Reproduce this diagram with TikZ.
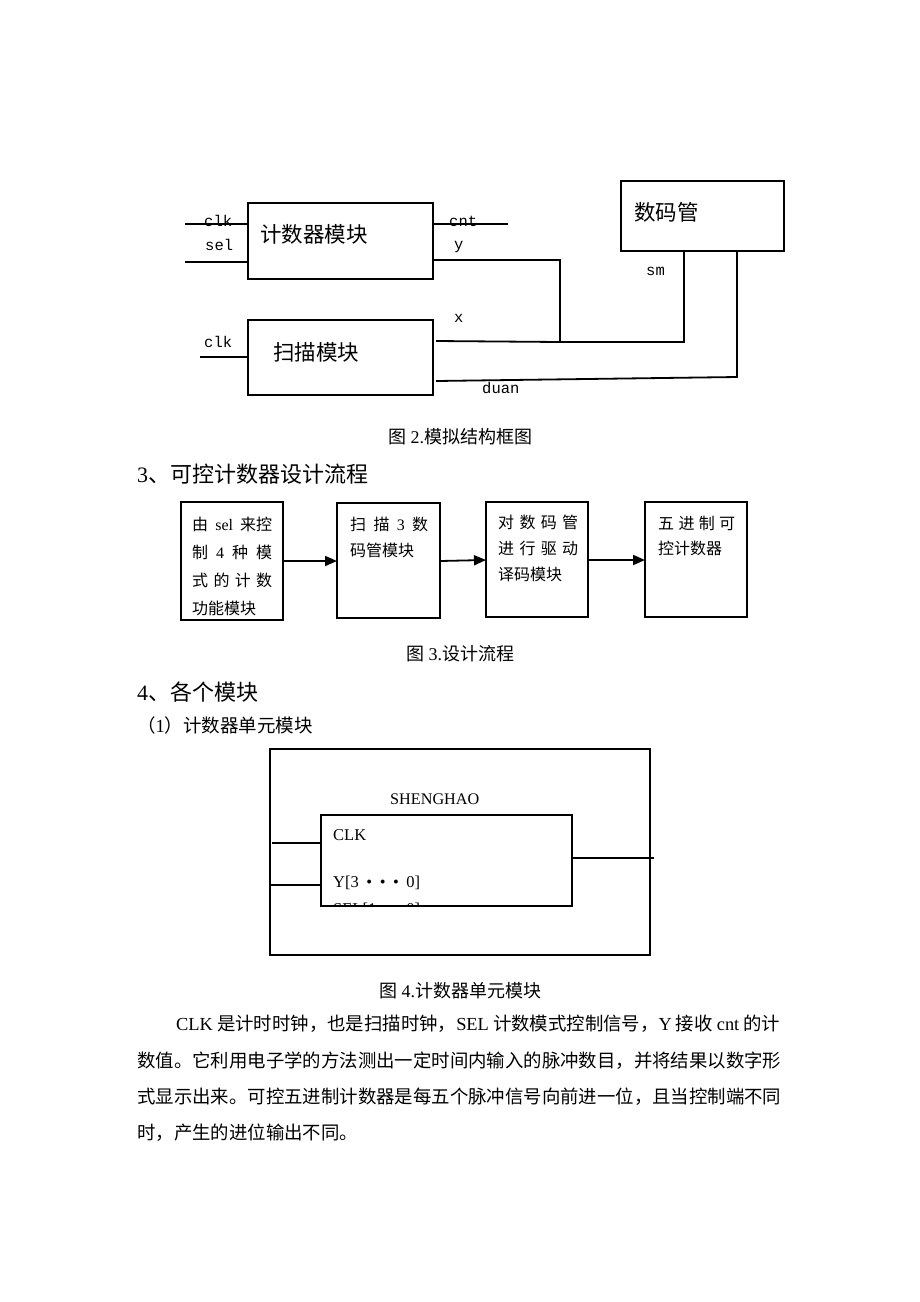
\documentclass[tikz,border=0pt]{standalone}
\usepackage{fontspec}
\setmainfont{Liberation Serif}
\setmonofont{Liberation Mono}
\newfontfamily\zhfont{Noto Sans CJK SC}
\newcommand\zh[1]{{\zhfont #1}}
\newcommand\fsz[1]{\fontsize{#1}{#1}\selectfont}
\usetikzlibrary{arrows.meta}
\begin{document}
\begin{tikzpicture}[x=1pt,y=-1pt,
  box/.style={draw, line width=1.3pt, inner sep=0pt, outer sep=0pt, anchor=north west},
  wire/.style={line width=1.8pt},
  arr/.style={line width=1.8pt, -{Triangle[length=12pt,width=10pt]}},
  tx/.style={inner sep=0pt, anchor=base west},
  txc/.style={inner sep=0pt, anchor=base},
  sig/.style={tx, font=\ttfamily\fsz{15.5}},
  bigtext/.style={tx, font=\zhfont\fsz{21.5}},
  flow/.style={tx, font=\fsz{16}},
  capt/.style={txc, font=\fsz{18}},
  headtext/.style={tx, font=\fsz{22}},
  bodytext/.style={tx, font=\fsz{18.4}},
]
\useasboundingbox (0,0) rectangle (920,1302);
\fill[white] (0,0) rectangle (920,1302);

% ---------- Figure 2 ----------
\node[box, minimum width=185pt, minimum height=76pt] (cntbox) at (248,203) {};
\node[box, minimum width=185pt, minimum height=75pt] (scanbox) at (248,320) {};
\node[box, minimum width=163pt, minimum height=70pt] (smg) at (621,181) {};
\node[bigtext] (tcnt) at (260,242) {计数器模块};
\node[bigtext] (tscan) at (273,360) {扫描模块};
\node[bigtext] (tsmg) at (634,220) {数码管};

\coordinate (clkA) at (185,224);
\coordinate (selA) at (185,262);
\coordinate (cntE) at (508,224);
\coordinate (yS) at (433,260);
\coordinate (yT) at (560,260);
\coordinate (jn) at (560,342);
\coordinate (smp) at (684,342);
\coordinate (xS) at (436,341);
\coordinate (dS) at (436,381);
\coordinate (dn) at (737,377);
\coordinate (clkB) at (200,357);

\draw[wire] (clkA) -- (clkA -| cntbox.west);
\draw[wire] (selA) -- (selA -| cntbox.west);
\draw[wire] (cntE -| cntbox.east) -- (cntE);
\draw[wire] (yS) -- (yT) -- (jn) -- (smp) -- (smp |- smg.south);
\draw[wire] (xS) -- (jn);
\draw[wire] (dS) -- (dn) -- (dn |- smg.south);
\draw[wire] (clkB) -- (clkB -| scanbox.west);

\node[sig] (lclk) at (204,226) {clk};
\node[sig] (lsel) at (205,250) {sel};
\node[sig] (lcnt) at (449,226) {cnt};
\node[sig] (ly) at (454,249) {y};
\node[sig] (lx) at (454,322) {x};
\node[sig] (lsm) at (646,275) {sm};
\node[sig] (lduan) at (482,393) {duan};
\node[sig] (lclk2) at (204,347) {clk};

\node[capt] (cap2) at (460,443) {\zh{图} 2.\zh{模拟结构框图}};
\node[headtext] (h3) at (137,482) {3\zh{、可控计数器设计流程}};

% ---------- Figure 3 ----------
\node[box, minimum width=102pt, minimum height=118pt] (f1) at (181,502) {};
\node[box, minimum width=103pt, minimum height=115pt] (f2) at (337,503) {};
\node[box, minimum width=102pt, minimum height=115pt] (f3) at (486,502) {};
\node[box, minimum width=102pt, minimum height=115pt] (f4) at (645,502) {};

\node[flow] (f1a) at (192,530) {\makebox[80pt][s]{\zh{由}\hfill sel\hfill\zh{来控}}};
\node[flow] (f1b) at (192,558) {\makebox[80pt][s]{\zh{制}\hfill 4\hfill\zh{种}\hfill\zh{模}}};
\node[flow] (f1c) at (192,586) {\makebox[80pt][s]{\zh{式}\hfill\zh{的}\hfill\zh{计}\hfill\zh{数}}};
\node[flow] (f1d) at (192,614) {\zh{功能模块}};

\node[flow] (f2a) at (350,530) {\makebox[78pt][s]{\zh{扫}\hfill\zh{描}\hfill 3\hfill\zh{数}}};
\node[flow] (f2b) at (350,556) {\zh{码管模块}};

\node[flow] (f3a) at (498,528) {\makebox[80pt][s]{\zh{对}\hfill\zh{数}\hfill\zh{码}\hfill\zh{管}}};
\node[flow] (f3b) at (498,554) {\makebox[80pt][s]{\zh{进}\hfill\zh{行}\hfill\zh{驱}\hfill\zh{动}}};
\node[flow] (f3c) at (498,580) {\zh{译码模块}};

\node[flow] (f4a) at (658,529) {\makebox[77pt][s]{\zh{五}\hfill\zh{进}\hfill\zh{制}\hfill\zh{可}}};
\node[flow] (f4b) at (658,554) {\zh{控计数器}};

\coordinate (a1) at (283,561);
\coordinate (a2) at (440,561);
\coordinate (a2e) at (486,560);
\coordinate (a3) at (588,560);
\draw[arr] (a1) -- (a1 -| f2.west);
\draw[arr] (a2) -- (a2e);
\draw[arr] (a3) -- (a3 -| f4.west);

\node[capt] (cap3) at (460,660) {\zh{图} 3.\zh{设计流程}};
\node[headtext] (h4) at (137,700) {4\zh{、各个模块}};
\node[tx, font=\fsz{18.5}] (h41) at (137,732) {\zh{（}1\zh{）计数器单元模块}};

% ---------- Figure 4 ----------
\node[box, line width=2pt, minimum width=380pt, minimum height=206pt] (outer) at (270,749) {};
\node[box, minimum width=251pt, minimum height=91pt] (inner) at (321,815) {};
\node[tx, font=\fsz{16.2}] (shh) at (390,804) {SHENGHAO};
\node[tx, font=\fsz{16.5}] (pclk) at (333,840) {CLK};
\node[tx, font=\fsz{16.5}] (py) at (333,887) {\makebox[87pt][s]{Y[3 • • • 0]}};
\begin{scope}
  \clip (321,815) rectangle (572,906);
  \node[tx, font=\fsz{16.5}] (psel) at (333,914) {\makebox[87pt][s]{SEL[1 • • • 0]}};
\end{scope}
\coordinate (w1) at (272,843);
\coordinate (w2) at (270,885);
\coordinate (w3) at (654,858);
\draw[wire] (w1) -- (w1 -| inner.west);
\draw[wire] (w2) -- (w2 -| inner.west);
\draw[wire] (w3 -| inner.east) -- (w3);

\node[capt] (cap4) at (460,997) {\zh{图} 4.\zh{计数器单元模块}};

% ---------- Paragraph ----------
\node[bodytext] (p1) at (176,1030) {\makebox[604pt][s]{CLK \zh{是计时时钟，也是扫描时钟，}SEL \zh{计数模式控制信号，}Y \zh{接收} cnt \zh{的计}}};
\node[bodytext] (p2) at (137,1067) {\zh{数值。它利用电子学的方法测出一定时间内输入的脉冲数目，并将结果以数字形}};
\node[bodytext] (p3) at (137,1103) {\zh{式显示出来。可控五进制计数器是每五个脉冲信号向前进一位，且当控制端不同}};
\node[bodytext] (p4) at (137,1139) {\zh{时，产生的进位输出不同。}};
\end{tikzpicture}
\end{document}
